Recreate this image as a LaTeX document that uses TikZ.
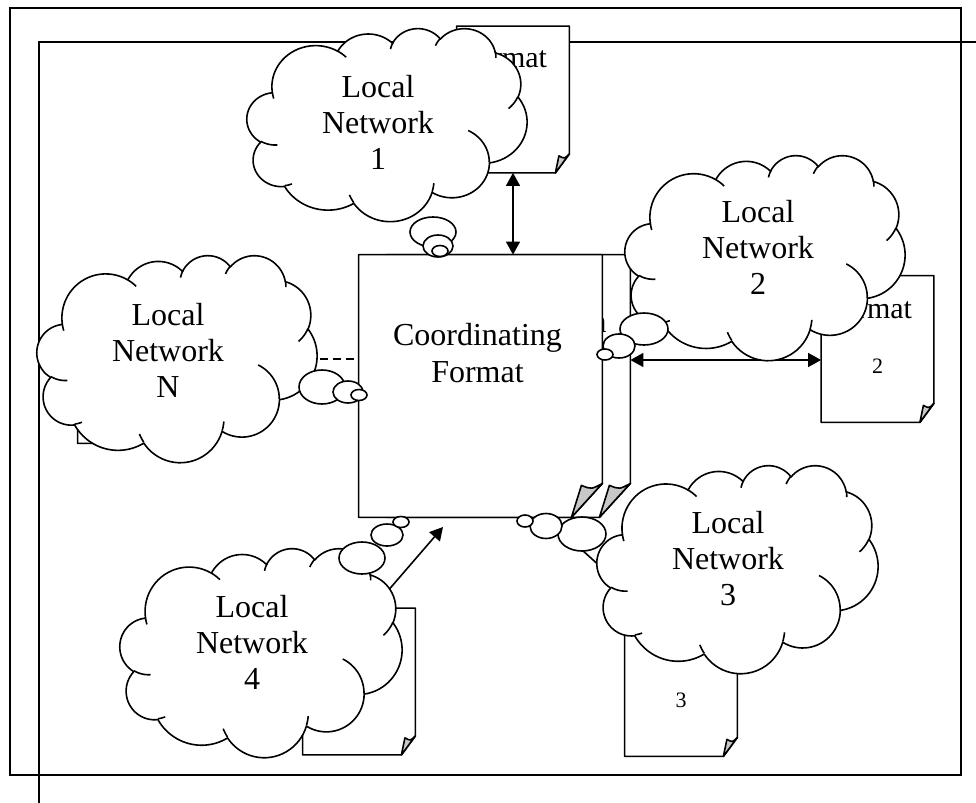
\documentclass[tikz,border=0pt]{standalone}
\usepackage{fontspec}
\setmainfont{Liberation Serif}
\usetikzlibrary{arrows.meta}

% ---- cloud outline (DrawingML cloud geometry, units of 1/100) ----
\newcommand\cldArc[6]{%
  \pgfmathsetmacro\cldta{atan2((#3)*sin(#5),(#4)*cos(#5))}%
  \pgfmathsetmacro\cldcx{\cldpx-(#3)*cos(\cldta)}%
  \pgfmathsetmacro\cldcy{\cldpy-(#4)*sin(\cldta)}%
  \pgfmathsetmacro\cldtb{atan2((#3)*sin((#5)+(#6)),(#4)*cos((#5)+(#6)))}%
  \pgfmathsetmacro\cldd{(\cldtb)-(\cldta)-(#6)}%
  \pgfmathsetmacro\cldtb{(\cldta)+(#6)+(\cldd)-360*round((\cldd)/360)}%
  \pgfmathsetmacro\cldpx{\cldcx+(#3)*cos(\cldtb)}%
  \pgfmathsetmacro\cldpy{\cldcy+(#4)*sin(\cldtb)}%
  \expandafter\xdef\csname cldseg#1\endcsname{#2 plot[domain=\cldta:\cldtb,samples=25,variable=\noexpand\cldt] ({\cldcx+(#3)*cos(\noexpand\cldt)},{\cldcy+(#4)*sin(\noexpand\cldt)})}%
}
\def\cldpx{39.00}\def\cldpy{143.70}
\cldArc{A}{}{67.53}{91.90}{-190.4875}{123.7805}
\cldArc{B}{--}{53.33}{72.67}{-144.1024}{89.9452}
\cldArc{C}{--}{43.65}{59.45}{-145.8079}{99.7230}
\cldArc{D}{--}{48.57}{65.95}{-130.9861}{117.2417}
\cldArc{E}{--}{53.33}{72.73}{-78.7089}{109.0269}
\cldArc{F}{--}{67.75}{92.20}{-46.2673}{130.2690}
\cldArc{G}{--}{57.85}{78.67}{0.6250}{114.0333}
\cldArc{H}{--}{67.52}{92.15}{22.4516}{115.1726}
\cldArc{I}{--}{77.20}{105.43}{66.2426}{75.7110}
\cldArc{J}{--}{43.60}{59.18}{-274.9421}{146.7356}
\cldArc{K}{--}{43.45}{59.45}{-246.8285}{152.5189}
\def\cldpx{46.93}\def\cldpy{261.77}\cldArc{a}{}{43.45}{59.45}{86.7420}{26.4295}
\def\cldpx{69.28}\def\cldpy{348.99}\cldArc{b}{}{43.60}{59.18}{73.6105}{11.4475}
\def\cldpx{164.78}\def\cldpy{390.90}\cldArc{c}{}{67.52}{92.15}{137.6242}{14.0811}
\def\cldpx{288.27}\def\cldpy{347.51}\cldArc{d}{}{67.52}{92.15}{6.4533}{15.9984}
\def\cldpx{341.29}\def\cldpy{229.54}\cldArc{e}{}{57.85}{78.67}{-70.2924}{70.9174}
\def\cldpx{417.98}\def\cldpy{153.54}\cldArc{f}{}{53.33}{72.73}{30.3180}{27.7515}
\def\cldpx{383.24}\def\cldpy{54.26}\cldArc{g}{}{48.57}{65.95}{-13.7443}{14.8589}
\def\cldpx{290.78}\def\cldpy{39.52}\cldArc{h}{}{48.57}{65.95}{-149.1815}{18.1954}
\def\cldpx{221.41}\def\cldpy{47.20}\cldArc{i}{}{43.65}{59.45}{-163.4943}{17.6864}
\def\cldpx{140.00}\def\cldpy{51.92}\cldArc{j}{}{67.53}{91.90}{-66.7070}{12.3194}
\def\cldpx{41.27}\def\cldpy{157.89}\cldArc{k}{}{67.53}{91.90}{157.6544}{11.8582}
\def\cldOuter{\cldsegA\cldsegB\cldsegC\cldsegD\cldsegE\cldsegF\cldsegG\cldsegH\cldsegI\cldsegJ\cldsegK -- cycle}
\def\cldInner{\cldsega\cldsegb\cldsegc\cldsegd\cldsege\cldsegf\cldsegg\cldsegh\cldsegi\cldsegj\cldsegk}

\newcommand\drawcloud[4]{%
  \begin{scope}[shift={(#1,#2)},xscale=#3/432,yscale=#4/432]
    \draw[cloudline,fill=white] \cldOuter;
    \draw[cloudline] \cldInner;
  \end{scope}}

% folded-corner page: node, cut dx, cut dy, curl dx, curl dy, ctrl dx, ctrl dy
\newcommand\foldpage[7]{%
  \draw[shapeline,fill=white] (#1.north west) -- (#1.north east) -- ([yshift=#3]#1.south east)
     -- ([xshift=-#2]#1.south east) -- (#1.south west) -- cycle;
  \draw[shapeline,fill=foldgray] ([xshift=-#2]#1.south east) -- ([xshift=-#4,yshift=#5]#1.south east)
     .. controls ([xshift=-#6,yshift=#7]#1.south east) .. ([yshift=#3]#1.south east) -- cycle;}

\definecolor{foldgray}{RGB}{200,200,200}

\begin{document}
\begin{tikzpicture}[x=0.5pt,y=-0.5pt,
  frame/.style={line width=1pt},
  shapeline/.style={line width=0.8pt,line join=round},
  cloudline/.style={line width=0.8pt,line join=round},
  docnode/.style={inner sep=0pt,minimum width=56pt,minimum height=73pt},
  pagenode/.style={inner sep=0pt,minimum width=121.5pt,minimum height=131pt},
  cloudtext/.style={inner sep=0pt,align=center,font=\fontsize{16}{18}\selectfont},
  doctext/.style={inner sep=0pt,font=\fontsize{15}{17}\selectfont},
  docnum/.style={inner sep=0pt,font=\fontsize{11}{13}\selectfont},
  dbl/.style={line width=0.8pt,{Triangle[length=6.5pt,width=7pt]}-{Triangle[length=6.5pt,width=7pt]}},
  arr/.style={line width=0.8pt,-{Triangle[length=6.5pt,width=7pt]}},
  dashline/.style={line width=0.8pt,dash pattern=on 4pt off 2.5pt},
]
\useasboundingbox (0,0) rectangle (976,803);

% frame lines
\draw[frame] (10,8) rectangle (961,775);
\draw[frame] (976,42) -- (38.6,42) -- (38.6,803);

% documents
\node[docnode] (docN) at (134,370) {};
\node[docnode] (doc1) at (513,99.5) {};
\node[docnode] (doc2) at (877.5,349) {};
\node[docnode] (doc3) at (681,683) {};
\node[docnode] (doc4) at (359,681.5) {};
\foldpage{docN}{7pt}{9.5pt}{5.25pt}{8.5pt}{2.5pt}{7pt}
\foldpage{doc1}{7pt}{9.5pt}{5.25pt}{8.5pt}{2.5pt}{7pt}
\foldpage{doc2}{7pt}{9.5pt}{5.25pt}{8.5pt}{2.5pt}{7pt}
\foldpage{doc3}{7pt}{9.5pt}{5.25pt}{8.5pt}{2.5pt}{7pt}
\foldpage{doc4}{7pt}{9.5pt}{5.25pt}{8.5pt}{2.5pt}{7pt}
\node[doctext,anchor=base west] (f1) at (460,68) {Format};
\node[doctext,anchor=base west] (f2) at (825,318) {Format};
\node[docnum,anchor=base] (n2) at (877.5,373) {2};
\node[docnum,anchor=base] (n3) at (681,707) {3};

% coordinating format pages
\node[pagenode] (page2) at (508.5,386) {};
\foldpage{page2}{15.5pt}{17pt}{10.5pt}{16pt}{5.5pt}{14pt}
\node[inner sep=0pt,font=\fontsize{16}{18}\selectfont,anchor=base east] (frag) at (607,332) {n};
\node[pagenode] (box) at (480.5,386) {};
\foldpage{box}{15.5pt}{17pt}{10.5pt}{16pt}{5.5pt}{14pt}
\node[inner sep=0pt,align=center,font=\fontsize{16}{18.5}\selectfont] (cf) at (477.5,353.5) {Coordinating\\Format};

% connectors
\coordinate (a2y) at (0,360);
\coordinate (dny) at (0,359);
\coordinate (a4x) at (373,0);
\coordinate (a4e) at (443,527);
\coordinate (l3a) at (546,0);
\coordinate (l3b) at (648,0);
\draw[dbl] (doc1.south) -- (doc1.south |- box.north);
\draw[dbl] (page2.east |- a2y) -- (doc2.west |- a2y);
\draw[dashline] (docN.east |- dny) -- (box.west |- dny);
\draw[arr] (doc4.north -| a4x) -- (a4e);
\draw[shapeline] (box.south -| l3a) -- (doc3.north -| l3b);

% clouds
\drawcloud{247}{28}{280}{193}
\drawcloud{625}{155}{280}{205}
\drawcloud{37}{255}{280}{207}
\drawcloud{120}{548}{282}{209}
\drawcloud{597}{465}{281}{208}

% thought bubbles
\draw[cloudline,fill=white] (433,232) ellipse [x radius=11.5pt,y radius=7.5pt];
\draw[cloudline,fill=white] (438,246) ellipse [x radius=7.5pt,y radius=5.5pt];
\draw[cloudline,fill=white] (440,251) ellipse [x radius=4pt,y radius=2.75pt];
\draw[cloudline,fill=white] (644,329) ellipse [x radius=12pt,y radius=8pt];
\draw[cloudline,fill=white] (619,346) ellipse [x radius=8pt,y radius=6pt];
\draw[cloudline,fill=white] (605,354.5) ellipse [x radius=4pt,y radius=2.75pt];
\draw[cloudline,fill=white] (322,387) ellipse [x radius=11.5pt,y radius=8.5pt];
\draw[cloudline,fill=white] (348,392) ellipse [x radius=7.5pt,y radius=5.5pt];
\draw[cloudline,fill=white] (359,395) ellipse [x radius=4pt,y radius=2.75pt];
\draw[cloudline,fill=white] (362,558) ellipse [x radius=11.5pt,y radius=8pt];
\draw[cloudline,fill=white] (387,535) ellipse [x radius=8pt,y radius=5.5pt];
\draw[cloudline,fill=white] (401,522) ellipse [x radius=4pt,y radius=2.75pt];
\draw[cloudline,fill=white] (582,534) ellipse [x radius=12pt,y radius=8.5pt];
\draw[cloudline,fill=white] (546,526) ellipse [x radius=8pt,y radius=6.25pt];
\draw[cloudline,fill=white] (525,521) ellipse [x radius=4pt,y radius=3pt];

% cloud texts
\node[cloudtext] (t1) at (378,122) {Local\\Network\\1};
\node[cloudtext] (t2) at (758,247) {Local\\Network\\2};
\node[cloudtext] (tN) at (168,350.5) {Local\\Network\\N};
\node[cloudtext] (t4) at (252,642.5) {Local\\Network\\4};
\node[cloudtext] (t3) at (728,558.5) {Local\\Network\\3};
\end{tikzpicture}
\end{document}
